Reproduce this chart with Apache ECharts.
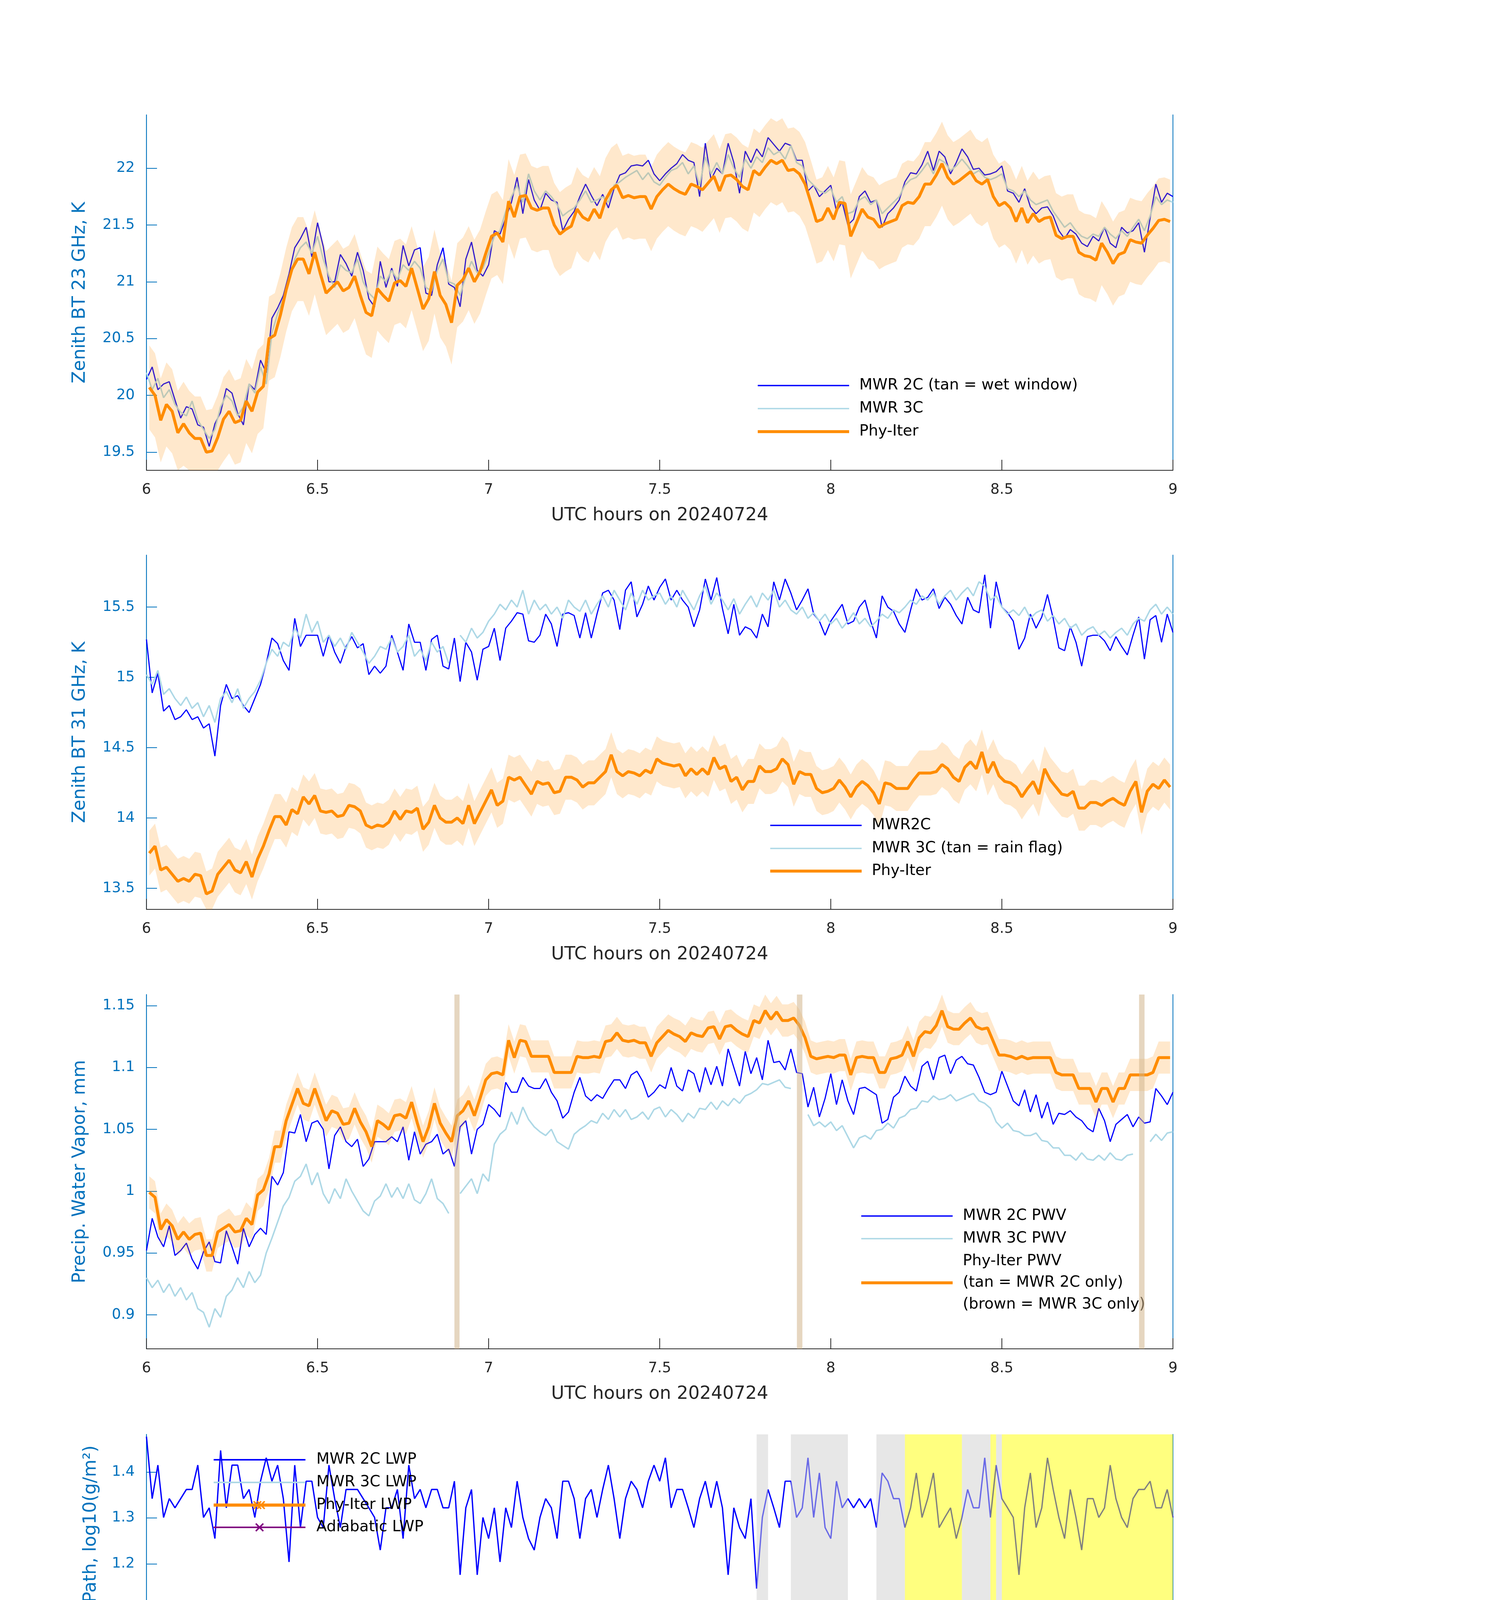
<!DOCTYPE html>
<html>
<head>
<meta charset="utf-8">
<title>MWR retrievals 20240724</title>
<script src="https://cdn.jsdelivr.net/npm/echarts@6.0.0/dist/echarts.min.js"></script>
<style>
html,body{margin:0;padding:0;background:#ffffff;}
#chart{width:3825px;height:6000px;}
</style>
</head>
<body>
<div id="chart"></div>
<script>
// ================= DATA =================
const xTickValues = [6, 6.5, 7, 7.5, 8, 8.5, 9];
const bt23Ticks = [19.5, 20, 20.5, 21, 21.5, 22];
const bt31Ticks = [13.5, 14, 14.5, 15, 15.5];
const pwvTicks = [0.9, 0.95, 1, 1.05, 1.1, 1.15];
const lwpTicks = [0.8, 0.9, 1, 1.1, 1.2, 1.3, 1.4];
const flagTicks = [0, 2, 4, 6, 8, 10];

// MWR samples every minute from 6:00 to 9:00 UTC; Phy-Iter samples at half-minute centres
const minuteTimes = Array.from({length: 181}, (_, i) => 6 + i / 60);
const phyTimes = Array.from({length: 180}, (_, k) => 6 + (k + 0.5) / 60);

// ---- Panel 1: Zenith BT 23 GHz (K)
const bt23Mwr2c = [20.14,20.25,20.05,20.10,20.12,19.96,19.80,19.90,19.88,19.74,
19.72,19.55,19.75,19.85,20.06,20.02,19.84,19.74,20.10,20.05,
20.31,20.20,20.68,20.77,20.88,21.07,21.30,21.38,21.48,21.22,
21.52,21.31,21.00,21.00,21.24,21.16,21.05,21.26,21.10,20.85,
20.78,21.18,20.95,21.12,20.96,21.32,21.14,21.28,21.30,20.90,
20.88,21.15,21.30,20.98,20.95,20.78,21.20,21.35,21.10,21.05,
21.15,21.45,21.42,21.56,21.70,21.92,21.60,21.90,21.72,21.63,
21.78,21.72,21.70,21.45,21.55,21.62,21.75,21.86,21.76,21.67,
21.77,21.65,21.82,21.94,21.96,22.02,22.03,22.02,22.07,21.95,
21.89,21.95,22.00,22.04,22.12,22.07,22.05,21.75,22.22,21.90,
22.00,21.95,22.22,22.05,21.78,22.15,22.05,22.17,22.10,22.27,
22.21,22.15,22.22,22.20,22.07,22.07,21.80,21.85,21.75,21.80,
21.85,21.62,21.70,21.50,21.55,21.75,21.80,21.70,21.72,21.48,
21.60,21.65,21.72,21.88,21.96,21.95,22.03,22.15,21.98,22.15,
22.10,21.95,22.05,22.17,22.10,21.99,22.00,21.94,21.95,21.97,
22.02,21.80,21.78,21.70,21.82,21.66,21.60,21.65,21.66,21.58,
21.45,21.38,21.46,21.42,21.34,21.31,21.40,21.36,21.48,21.34,
21.30,21.48,21.43,21.45,21.52,21.26,21.56,21.86,21.70,21.78,
21.75];
const bt23Mwr3c = [20.20,20.05,20.15,19.98,20.05,19.92,19.85,19.82,19.95,19.78,
19.70,19.62,19.70,19.90,20.00,19.95,19.82,19.90,20.10,20.02,
20.25,20.10,20.55,20.72,20.85,21.00,21.20,21.30,21.35,21.25,
21.40,21.20,21.05,20.95,21.15,21.10,21.08,21.20,21.00,20.90,
20.85,21.05,21.00,21.10,21.02,21.15,21.10,21.18,21.12,20.95,
20.92,21.10,21.20,21.00,20.98,20.88,21.05,21.18,21.08,21.12,
21.25,21.40,21.45,21.62,21.75,21.85,21.70,21.95,21.80,21.72,
21.80,21.75,21.68,21.58,21.62,21.65,21.72,21.80,21.70,21.72,
21.75,21.70,21.85,21.88,21.92,21.95,21.98,21.90,21.96,21.88,
21.85,21.92,21.98,22.00,22.05,21.95,22.02,21.85,22.10,21.95,
22.05,21.95,22.12,22.00,21.92,22.08,22.00,22.10,22.05,22.18,
22.12,22.15,22.08,22.20,22.05,22.02,21.90,21.85,21.80,21.78,
21.82,21.70,21.75,21.60,21.62,21.72,21.75,21.68,21.72,21.60,
21.65,21.70,21.75,21.85,21.90,21.92,21.98,22.05,21.95,22.08,
22.05,21.98,22.02,22.08,22.02,21.95,21.98,21.92,21.90,21.92,
21.95,21.82,21.80,21.75,21.80,21.72,21.68,21.70,21.72,21.62,
21.55,21.48,21.52,21.45,21.40,21.38,21.42,21.40,21.48,21.42,
21.38,21.45,21.40,21.48,21.55,21.45,21.58,21.75,21.68,21.72,
21.70];
const bt23Phy = [20.07,20.00,19.78,19.92,19.86,19.67,19.75,19.67,19.62,19.62,
19.50,19.51,19.63,19.79,19.86,19.76,19.78,19.95,19.86,20.03,
20.08,20.50,20.53,20.71,20.93,21.11,21.20,21.20,21.07,21.26,
21.07,20.90,20.95,21.00,20.92,20.95,21.05,20.88,20.73,20.70,
20.94,20.88,20.83,20.99,21.01,20.96,21.12,20.94,20.76,20.85,
21.09,20.88,20.80,20.64,20.97,21.02,21.12,21.00,21.09,21.25,
21.40,21.43,21.35,21.71,21.57,21.75,21.76,21.65,21.63,21.65,
21.65,21.50,21.42,21.46,21.49,21.64,21.57,21.54,21.64,21.56,
21.72,21.81,21.85,21.74,21.76,21.74,21.75,21.75,21.64,21.75,
21.81,21.86,21.82,21.79,21.77,21.86,21.84,21.81,21.87,21.93,
21.80,21.93,21.94,21.90,21.84,21.81,21.98,21.94,22.01,22.07,
22.04,22.07,21.98,21.99,21.95,21.86,21.70,21.53,21.55,21.65,
21.55,21.70,21.69,21.40,21.52,21.64,21.57,21.55,21.48,21.51,
21.53,21.55,21.67,21.70,21.69,21.75,21.86,21.86,21.94,22.04,
21.92,21.86,21.89,21.93,21.97,21.89,21.86,21.90,21.75,21.67,
21.70,21.65,21.53,21.65,21.52,21.60,21.53,21.56,21.57,21.41,
21.38,21.40,21.40,21.26,21.23,21.22,21.19,21.34,21.26,21.16,
21.24,21.26,21.37,21.35,21.34,21.41,21.47,21.54,21.55,21.53];
const bt23PhyUncertainty = 0.37;

// ---- Panel 2: Zenith BT 31 GHz (K)
const bt31Mwr2c = [15.27,14.89,15.03,14.76,14.80,14.70,14.72,14.77,14.70,14.72,
14.64,14.67,14.44,14.80,14.95,14.85,14.87,14.80,14.75,14.85,
14.95,15.10,15.28,15.24,15.12,15.05,15.42,15.22,15.30,15.30,
15.30,15.15,15.30,15.18,15.10,15.22,15.29,15.21,15.24,15.02,
15.08,15.03,15.08,15.30,15.18,15.05,15.38,15.25,15.25,15.05,
15.27,15.30,15.08,15.06,15.28,14.97,15.25,15.18,14.98,15.20,
15.22,15.35,15.12,15.35,15.40,15.46,15.45,15.26,15.25,15.30,
15.45,15.38,15.22,15.45,15.46,15.44,15.28,15.46,15.28,15.45,
15.60,15.62,15.55,15.34,15.62,15.68,15.43,15.52,15.65,15.55,
15.64,15.70,15.55,15.62,15.55,15.50,15.36,15.48,15.70,15.55,
15.71,15.49,15.31,15.52,15.30,15.36,15.34,15.28,15.45,15.36,
15.68,15.55,15.70,15.60,15.48,15.55,15.63,15.45,15.40,15.30,
15.40,15.46,15.52,15.38,15.40,15.50,15.55,15.40,15.28,15.58,
15.50,15.47,15.38,15.32,15.48,15.63,15.55,15.57,15.63,15.49,
15.57,15.52,15.44,15.38,15.57,15.48,15.46,15.73,15.35,15.68,
15.50,15.46,15.40,15.20,15.28,15.45,15.35,15.43,15.59,15.42,
15.21,15.19,15.36,15.25,15.08,15.29,15.30,15.30,15.26,15.19,
15.29,15.22,15.16,15.30,15.43,15.13,15.41,15.44,15.25,15.45,
15.32];
const bt31Mwr3c = [15.02,14.95,15.05,14.88,14.92,14.85,14.80,14.86,14.78,14.82,
14.72,14.80,14.68,14.85,14.90,14.82,14.92,14.78,14.85,14.90,
14.98,15.10,15.20,15.15,15.25,15.22,15.35,15.28,15.45,15.32,
15.40,15.25,15.30,15.22,15.28,15.20,15.32,15.25,15.18,15.10,
15.15,15.22,15.20,15.28,15.18,15.22,15.30,15.15,15.20,15.12,
15.25,15.18,15.22,15.10,null,15.30,15.25,15.35,15.28,15.32,
15.40,15.45,15.52,15.48,15.55,15.50,15.62,15.45,15.55,15.48,
15.52,15.45,15.50,15.42,15.55,15.50,15.47,15.55,15.45,15.52,
15.58,15.50,15.62,15.55,15.48,15.60,15.52,15.62,15.55,15.58,
15.60,15.52,15.58,15.50,15.62,15.55,15.48,15.58,15.65,15.52,
15.60,15.55,15.48,15.56,15.45,15.52,15.58,15.50,15.60,15.55,
15.62,15.50,15.55,15.48,15.45,15.50,15.42,15.46,15.40,15.45,
15.38,15.42,15.35,15.40,15.46,15.38,15.42,15.36,15.40,15.45,
15.42,15.48,15.46,15.50,15.55,15.52,15.58,15.55,15.60,15.52,
15.58,15.62,15.55,15.60,15.64,15.58,15.68,15.65,15.55,15.58,
15.50,15.45,15.48,15.44,15.50,15.42,15.46,15.48,15.40,15.44,
15.38,15.42,15.35,15.38,15.30,15.34,15.36,15.30,15.33,15.28,
15.32,15.35,15.30,15.38,15.42,15.40,15.48,15.52,15.45,15.50,
15.45];
const bt31Phy = [13.75,13.80,13.63,13.65,13.60,13.55,13.57,13.55,13.60,13.59,
13.46,13.48,13.60,13.65,13.70,13.63,13.61,13.69,13.58,13.71,
13.80,13.91,14.01,14.01,13.95,14.06,14.03,14.15,14.10,14.16,
14.05,14.04,14.05,14.01,14.02,14.09,14.08,14.05,13.95,13.93,
13.95,13.94,13.97,14.05,13.99,14.05,14.04,14.07,13.92,13.97,
14.09,14.00,13.97,13.97,14.00,13.96,14.09,13.96,14.04,14.12,
14.20,14.09,14.12,14.29,14.27,14.29,14.23,14.17,14.26,14.24,
14.25,14.18,14.19,14.29,14.29,14.27,14.22,14.25,14.25,14.29,
14.33,14.45,14.33,14.30,14.33,14.32,14.30,14.34,14.32,14.42,
14.39,14.38,14.37,14.38,14.30,14.35,14.31,14.35,14.31,14.43,
14.35,14.37,14.26,14.29,14.20,14.26,14.26,14.37,14.33,14.33,
14.35,14.42,14.38,14.24,14.33,14.31,14.31,14.21,14.18,14.19,
14.21,14.27,14.22,14.15,14.22,14.26,14.23,14.18,14.10,14.25,
14.24,14.21,14.21,14.21,14.27,14.32,14.32,14.32,14.33,14.38,
14.35,14.29,14.26,14.36,14.40,14.35,14.47,14.32,14.40,14.30,
14.26,14.25,14.22,14.15,14.21,14.26,14.17,14.35,14.27,14.22,
14.17,14.16,14.19,14.07,14.07,14.11,14.11,14.09,14.12,14.14,
14.11,14.09,14.19,14.26,14.04,14.19,14.24,14.21,14.27,14.22];
const bt31PhyUncertainty = 0.16;

// ---- Panel 3: Precipitable water vapour (mm)
const pwvMwr2c = [0.952,0.978,0.963,0.955,0.972,0.948,0.952,0.958,0.945,0.937,
0.951,0.959,0.943,0.942,0.968,0.955,0.941,0.970,0.955,0.965,
0.970,0.965,1.012,1.005,1.015,1.048,1.047,1.062,1.040,1.055,
1.057,1.050,1.018,1.045,1.052,1.040,1.036,1.042,1.020,1.026,
1.040,1.040,1.040,1.044,1.040,1.052,1.025,1.048,1.030,1.038,
1.040,1.046,1.030,1.034,1.020,1.052,1.057,1.030,1.050,1.054,
1.070,1.066,1.060,1.088,1.080,1.080,1.092,1.085,1.083,1.083,
1.091,1.080,1.073,1.059,1.064,1.080,1.092,1.077,1.073,1.078,
1.075,1.083,1.090,1.090,1.083,1.094,1.097,1.089,1.076,1.080,
1.086,1.083,1.100,1.085,1.081,1.098,1.095,1.080,1.100,1.086,
1.101,1.085,1.115,1.100,1.085,1.113,1.095,1.108,1.090,1.122,
1.104,1.105,1.098,1.115,1.096,1.095,1.068,1.084,1.060,1.075,
1.095,1.070,1.090,1.073,1.062,1.083,1.084,1.081,1.078,1.055,
1.058,1.076,1.080,1.093,1.085,1.081,1.101,1.105,1.090,1.108,
1.110,1.095,1.106,1.109,1.103,1.102,1.092,1.080,1.078,1.080,
1.097,1.085,1.073,1.069,1.082,1.064,1.078,1.059,1.072,1.054,
1.063,1.062,1.065,1.060,1.057,1.051,1.048,1.067,1.057,1.040,
1.054,1.058,1.062,1.052,1.060,1.055,1.056,1.083,1.077,1.070,
1.080];
const pwvMwr3c = [0.930,0.922,0.928,0.918,0.925,0.915,0.922,0.912,0.918,0.905,
0.902,0.890,0.905,0.898,0.915,0.920,0.930,0.922,0.935,0.926,
0.932,0.950,0.962,0.975,0.988,0.995,1.008,1.012,1.022,1.005,
1.015,0.998,0.990,1.002,0.994,1.010,1.000,0.992,0.984,0.980,
0.992,0.996,1.006,0.995,1.003,0.994,1.006,0.993,0.990,0.998,
1.010,0.994,0.990,0.982,null,0.998,1.004,1.010,0.998,1.014,
1.008,1.038,1.046,1.050,1.064,1.054,1.068,1.058,1.052,1.048,
1.045,1.050,1.040,1.037,1.034,1.046,1.050,1.053,1.057,1.055,
1.063,1.058,1.066,1.060,1.066,1.058,1.060,1.064,1.058,1.066,
1.068,1.060,1.066,1.062,1.056,1.063,1.059,1.067,1.066,1.072,
1.066,1.073,1.069,1.075,1.071,1.077,1.079,1.082,1.087,1.086,
1.088,1.090,1.084,1.083,null,null,1.062,1.053,1.056,1.052,
1.056,1.049,1.053,1.044,1.035,1.043,1.045,1.042,1.049,1.050,
1.055,1.051,1.059,1.061,1.066,1.067,1.073,1.072,1.077,1.074,
1.075,1.078,1.073,1.075,1.077,1.079,1.073,1.071,1.067,1.056,
1.051,1.055,1.049,1.048,1.045,1.045,1.047,1.041,1.040,1.035,
1.035,1.029,1.029,1.025,1.031,1.026,1.025,1.029,1.025,1.031,
1.026,1.025,1.029,1.030,null,null,1.040,1.046,1.041,1.047,
1.048];
const pwvPhy = [0.999,0.995,0.969,0.977,0.972,0.961,0.967,0.961,0.965,0.966,
0.948,0.948,0.967,0.970,0.973,0.967,0.968,0.978,0.973,0.997,
1.001,1.014,1.036,1.036,1.057,1.070,1.083,1.071,1.069,1.083,
1.070,1.057,1.065,1.063,1.054,1.055,1.067,1.056,1.048,1.036,
1.057,1.054,1.050,1.061,1.062,1.059,1.072,1.055,1.040,1.052,
1.071,1.055,1.047,1.040,1.061,1.065,1.073,1.061,1.075,1.090,
1.095,1.096,1.094,1.122,1.108,1.122,1.121,1.109,1.109,1.109,
1.109,1.096,1.096,1.096,1.096,1.109,1.108,1.108,1.109,1.108,
1.121,1.122,1.128,1.122,1.121,1.122,1.120,1.120,1.109,1.120,
1.125,1.130,1.127,1.125,1.121,1.128,1.126,1.125,1.132,1.133,
1.123,1.133,1.134,1.130,1.127,1.125,1.138,1.136,1.146,1.139,
1.145,1.138,1.138,1.140,1.134,1.124,1.109,1.107,1.108,1.109,
1.108,1.110,1.110,1.094,1.108,1.109,1.108,1.108,1.096,1.096,
1.107,1.108,1.110,1.121,1.109,1.124,1.129,1.128,1.134,1.146,
1.133,1.131,1.131,1.136,1.140,1.133,1.131,1.132,1.121,1.110,
1.110,1.109,1.107,1.109,1.107,1.108,1.108,1.108,1.108,1.096,
1.094,1.094,1.094,1.083,1.083,1.083,1.072,1.083,1.083,1.072,
1.083,1.083,1.094,1.094,1.094,1.094,1.096,1.108,1.108,1.108];
const pwvPhyUncertainty = 0.013;
// Phy-Iter steps retrieved from MWR 2C only (tan bars), hours UTC
const pwvTanStart = [6.900, 7.901, 8.901];
const pwvTanEnd = [6.915, 7.917, 8.917];

// ---- Panel 4: log10 liquid water path
const lwpMwr2c = [1.477,1.342,1.415,1.301,1.342,1.322,1.342,1.362,1.362,1.415,
1.301,1.322,1.255,1.447,1.322,1.415,1.415,1.342,1.362,1.301,
1.380,1.431,1.380,1.415,1.342,1.204,1.415,1.279,1.380,1.380,
1.301,1.279,1.415,1.342,1.279,1.362,1.362,1.362,1.342,1.322,
1.301,1.230,1.322,1.322,1.362,1.255,1.415,1.342,1.362,1.322,
1.362,1.362,1.322,1.322,1.380,1.176,1.322,1.362,1.176,1.301,
1.255,1.322,1.204,1.322,1.279,1.380,1.301,1.255,1.230,1.301,
1.342,1.322,1.255,1.380,1.380,1.342,1.255,1.342,1.362,1.301,
1.362,1.415,1.342,1.255,1.342,1.380,1.362,1.322,1.380,1.415,
1.380,1.431,1.322,1.362,1.362,1.322,1.279,1.342,1.380,1.322,
1.380,1.322,1.176,1.322,1.279,1.255,1.342,1.146,1.301,1.362,
1.322,1.279,1.380,1.380,1.301,1.322,1.431,1.301,1.398,1.279,
1.255,1.380,1.322,1.342,1.322,1.342,1.322,1.342,1.279,1.398,
1.380,1.342,1.342,1.279,1.322,1.398,1.301,1.342,1.398,1.279,
1.301,1.322,1.255,1.301,1.362,1.322,1.322,1.431,1.301,1.415,
1.342,1.322,1.301,1.176,1.322,1.398,1.279,1.322,1.431,1.362,
1.301,1.255,1.362,1.301,1.230,1.342,1.342,1.301,1.322,1.415,
1.342,1.301,1.279,1.342,1.362,1.362,1.380,1.322,1.322,1.362,
1.301];
const lwpMwr3c = [0.98,1.03,0.92,1.00,0.93,0.97,0.88,0.80,0.90,0.84,
0.92,0.83,0.95,0.87,0.97,0.89,0.94,0.86,0.98,0.90,
0.93,0.85,0.95,0.90,0.99,0.93,1.01,0.92,0.98,0.96,
1.02,0.95,0.99,0.93,1.01,0.96,1.02,0.94,0.98,0.90,
0.97,0.89,0.96,0.92,0.99,0.90,0.96,0.93,0.98,0.91,
0.97,0.92,0.96,0.90,null,0.99,0.94,1.01,0.96,1.03,
0.95,0.99,0.92,1.00,0.95,0.98,0.93,0.97,0.94,0.99,
0.95,1.00,0.94,0.98,0.96,1.02,0.98,1.06,0.99,1.04,
0.97,1.03,0.96,1.01,0.95,0.99,0.96,1.02,0.97,1.03,
0.96,1.01,0.94,1.00,0.98,1.04,0.99,1.02,0.95,0.99,
0.93,0.97,0.89,0.95,0.91,0.96,0.93,0.97,0.90,0.95,
0.92,0.96,0.90,0.94,null,null,0.87,0.92,0.88,0.93,
0.90,0.87,0.92,0.89,0.93,0.88,0.91,0.86,0.93,0.90,
0.94,0.89,0.92,0.88,0.95,0.90,0.94,0.91,0.96,0.92,
0.98,0.93,1.01,0.95,0.99,0.94,1.00,0.96,1.01,0.94,
0.99,0.95,1.00,0.94,0.98,0.93,0.97,0.95,0.99,0.93,
0.96,0.91,0.97,0.92,0.95,0.90,0.96,0.92,0.97,0.91,
0.96,0.93,0.98,0.95,null,null,0.95,0.98,0.93,0.97,
0.94];
const lwpPhy = [];
const lwpAdiabatic = [];

// ---- Panel 5: MWR Phy-Iter data-quality flag (one per Phy-Iter step)
const dqFlag = [0,0,0,0,0,0,0,0,0,0, 0,0,0,0,0,0,0,0,0,0,
0,0,0,0,0,0,0,0,0,0, 0,0,0,0,0,0,0,0,0,0,
0,0,0,0,0,0,0,0,0,0, 0,0,0,0,0,0,0,0,0,0,
0,0,0,0,0,0,0,0,0,0, 0,0,0,0,0,0,0,0,0,0,
0,0,0,0,0,0,0,0,0,0, 0,0,0,0,0,0,0,0,0,0,
0,0,0,0,0,0,0,4,4,0, 0,0,0,3,3,3,3,3,3,3,
3,3,3,0,0,0,0,0,4,4, 4,4,4,5,5,5,5,5,5,5,
5,5,5,3,3,3,3,3,5,3, 5,5,5,5,5,5,5,5,5,5,
5,5,5,5,5,5,5,5,5,5, 5,5,5,5,5,5,5,5,5,5];

// ================= STYLE / LAYOUT =================
const FONT = 'DejaVu Sans';
const AX_BLUE = '#0072BD';
const DARK = '#262626';
const C_2C = '#0000FF';
const C_3C = '#ADD8E6';
const C_PHY = '#FF8C00';
const C_ADIA = '#800080';
const BAND_FILL = 'rgba(255,140,0,0.2)';
const TAN_FILL = 'rgba(210,180,140,0.55)';
const GRAY_FILL = 'rgba(208,208,208,0.5)';
const YELLOW_FILL = 'rgba(255,255,0,0.5)';

const GRID_LEFT = 375, GRID_W = 2628;
const panelLayout = [
  {top: 294, height: 910},
  {top: 1421, height: 907},
  {top: 2546, height: 907},
  {top: 3672, height: 906},
  {top: 4795, height: 907}
];
const panelAxes = [
  {min: 19.34, max: 22.47, ticks: bt23Ticks, name: 'Zenith BT 23 GHz, K', gap: 147},
  {min: 13.35, max: 15.87, ticks: bt31Ticks, name: 'Zenith BT 31 GHz, K', gap: 147},
  {min: 0.8725, max: 1.159, ticks: pwvTicks, name: 'Precip. Water Vapor, mm', gap: 147},
  {min: 0.711, max: 1.482, ticks: lwpTicks, name: 'log10 Liquid Water Path, log10(g/m²)', gap: 119},
  {min: -0.5, max: 11.5, ticks: flagTicks, name: 'MWR Phy Iter DQ Flag', gap: 106}
];

const zip = (ts, vs) => vs.map((v, i) => [ts[i], v]);

const grids = panelLayout.map(p => ({left: GRID_LEFT, width: GRID_W, top: p.top, height: p.height, containLabel: false}));

const xAxes = panelLayout.map((p, g) => ({
  gridIndex: g, type: 'value', min: xTickValues[0], max: xTickValues[xTickValues.length - 1], interval: 0.5,
  name: 'UTC hours on 20240724', nameLocation: 'middle', nameGap: 93,
  nameTextStyle: {fontSize: 46, color: DARK, fontFamily: FONT},
  axisLine: {show: true, onZero: false, lineStyle: {color: DARK, width: 2.2}},
  axisTick: {show: true, inside: true, length: 27, lineStyle: {color: DARK, width: 2}},
  axisLabel: {show: true, fontSize: 37, color: DARK, margin: 32, fontFamily: FONT},
  splitLine: {show: false}
}));

const yAxesLeft = panelAxes.map((a, g) => ({
  gridIndex: g, type: 'value', position: 'left', min: a.min, max: a.max,
  name: a.name, nameLocation: 'middle', nameGap: a.gap,
  nameTextStyle: {fontSize: 46, color: AX_BLUE, fontFamily: FONT},
  axisLine: {show: true, onZero: false, lineStyle: {color: AX_BLUE, width: 2.2}},
  axisTick: {show: true, inside: true, length: 27, customValues: a.ticks, lineStyle: {color: AX_BLUE, width: 2}},
  axisLabel: {show: true, customValues: a.ticks, fontSize: 37, color: AX_BLUE, margin: 30, fontFamily: FONT},
  splitLine: {show: false}
}));
const yAxesRight = panelAxes.map((a, g) => ({
  gridIndex: g, type: 'value', position: 'right', min: 0, max: 1,
  axisLine: {show: true, onZero: false, lineStyle: {color: AX_BLUE, width: 2}},
  axisTick: {show: false}, axisLabel: {show: false}, splitLine: {show: false}
}));

function lineSeries(name, g, ts, vs, color, width, z) {
  return {
    type: 'line', name, xAxisIndex: g, yAxisIndex: g, data: zip(ts, vs), color,
    showSymbol: false, symbol: 'none', connectNulls: false, silent: true, z,
    lineStyle: {color, width}, itemStyle: {color}, emphasis: {disabled: true}
  };
}
// Uncertainty envelope (Phy-Iter value +/- uncertainty), projected through the axes and clipped to the plot box
function bandSeries(g, vs, sigma, z) {
  return {
    type: 'custom', xAxisIndex: g, yAxisIndex: g, z, silent: true,
    data: [[phyTimes[0], vs[0]]], encode: {x: 0, y: 1},
    renderItem: (params, api) => {
      const cs = params.coordSys;
      const clampY = y => Math.min(Math.max(y, cs.y), cs.y + cs.height);
      const upper = phyTimes.map((t, k) => { const p = api.coord([t, vs[k] + sigma]); return [p[0], clampY(p[1])]; });
      const lower = phyTimes.map((t, k) => { const p = api.coord([t, vs[k] - sigma]); return [p[0], clampY(p[1])]; });
      return {type: 'polygon', shape: {points: upper.concat(lower.reverse())}, style: {fill: BAND_FILL}};
    }
  };
}
function shadeSeries(g, regions, fills, z) {
  return {
    type: 'custom', xAxisIndex: g, yAxisIndex: g, z, silent: true, data: regions,
    encode: {x: [0, 1], y: 2},
    renderItem: (params, api) => {
      const cs = params.coordSys;
      const xa = api.coord([api.value(0), 0])[0];
      const xb = api.coord([api.value(1), 0])[0];
      return {type: 'rect', shape: {x: xa, y: cs.y, width: xb - xa, height: cs.height},
              style: {fill: fills[api.value(2)]}};
    }
  };
}

// Shaded regions in panel 4 follow the DQ flag (3/4 grey, 5 yellow), one Phy-Iter step wide
const halfStep = 0.5 / 60;
const flagClass = f => (f === 5 ? 2 : ((f === 3 || f === 4) ? 1 : 0));
const lwpRegions = [];
for (let k = 0; k < dqFlag.length;) {
  const c = flagClass(dqFlag[k]);
  let j = k;
  while (j + 1 < dqFlag.length && flagClass(dqFlag[j + 1]) === c) j++;
  if (c > 0) lwpRegions.push([phyTimes[k] - halfStep, phyTimes[j] + halfStep, c]);
  k = j + 1;
}
const pwvRegions = pwvTanStart.map((s, i) => [s, pwvTanEnd[i], 0]);

const N1 = 'MWR 2C (tan = wet window)', N1b = 'MWR 3C', NP = 'Phy-Iter';
const N2 = 'MWR2C', N2b = 'MWR 3C (tan = rain flag)';
const N3 = 'MWR 2C PWV', N3b = 'MWR 3C PWV', N3p = 'Phy-Iter PWV\n(tan = MWR 2C only)\n(brown = MWR 3C only)';
const N4 = 'MWR 2C LWP', N4b = 'MWR 3C LWP', N4p = 'Phy-Iter LWP', N4a = 'Adiabatic LWP';

const series = [
  lineSeries(N1, 0, minuteTimes, bt23Mwr2c, C_2C, 3, 2),
  lineSeries(N1b, 0, minuteTimes, bt23Mwr3c, C_3C, 3.8, 2),
  bandSeries(0, bt23Phy, bt23PhyUncertainty, 3),
  lineSeries(NP, 0, phyTimes, bt23Phy, C_PHY, 7.5, 4),

  lineSeries(N2, 1, minuteTimes, bt31Mwr2c, C_2C, 3, 2),
  lineSeries(N2b, 1, minuteTimes, bt31Mwr3c, C_3C, 3.8, 2),
  bandSeries(1, bt31Phy, bt31PhyUncertainty, 3),
  lineSeries(NP, 1, phyTimes, bt31Phy, C_PHY, 7.5, 4),

  lineSeries(N3, 2, minuteTimes, pwvMwr2c, C_2C, 3, 2),
  lineSeries(N3b, 2, minuteTimes, pwvMwr3c, C_3C, 3.8, 2),
  bandSeries(2, pwvPhy, pwvPhyUncertainty, 3),
  lineSeries(N3p, 2, phyTimes, pwvPhy, C_PHY, 7.5, 4),
  shadeSeries(2, pwvRegions, [TAN_FILL], 6),

  lineSeries(N4, 3, minuteTimes, lwpMwr2c, C_2C, 3.4, 2),
  lineSeries(N4b, 3, minuteTimes, lwpMwr3c, C_3C, 3.8, 2),
  lineSeries(N4p, 3, phyTimes, lwpPhy, C_PHY, 7.5, 4),
  lineSeries(N4a, 3, phyTimes, lwpAdiabatic, C_ADIA, 4, 4),
  shadeSeries(3, lwpRegions, ['rgba(0,0,0,0)', GRAY_FILL, YELLOW_FILL], 6),

  {type: 'scatter', name: 'DQ flag', xAxisIndex: 4, yAxisIndex: 4, data: zip(phyTimes, dqFlag),
   symbol: 'circle', symbolSize: 7, itemStyle: {color: C_PHY}, silent: true, z: 3, emphasis: {disabled: true}}
];

// ---- legends (one component per entry so each line keeps its own thickness)
const ORANGE_X_ICON = 'path://M0,7H235V15H0Z M101,2.8L103.8,0L112,8.2L120.2,0L123,2.8L114.8,11L123,19.2L120.2,22L112,13.8L103.8,22L101,19.2L109.2,11Z M110,2.8L112.8,0L121,8.2L129.2,0L132,2.8L123.8,11L132,19.2L129.2,22L121,13.8L112.8,22L110,19.2L118.2,11Z';
const PURPLE_X_ICON = 'path://M0,9H235V13H0Z M106.5,2.8L109.3,0L117.5,8.2L125.7,0L128.5,2.8L120.3,11L128.5,19.2L125.7,22L117.5,13.8L109.3,22L106.5,19.2L114.7,11Z';

function legendEntry(name, left, centerY, thick, textGap, opts) {
  const o = opts || {};
  const lh = o.lineHeight || 58;
  const lines = o.lines || 1;
  return {
    show: true, orient: 'vertical', left, top: centerY - lh * lines / 2, padding: 0,
    itemWidth: o.width || 234, itemHeight: thick, itemGap: 0, icon: o.icon || 'rect',
    selectedMode: false, data: [name],
    itemStyle: {borderWidth: 0},
    textStyle: {fontSize: 39, color: '#000000', fontFamily: FONT, lineHeight: lh, padding: [0, 0, 0, textGap]}
  };
}
const legends = [
  legendEntry(N1, 1940, 987, 3.4, 21),
  legendEntry(N1b, 1940, 1046, 3.5, 21),
  legendEntry(NP, 1940, 1105, 7.5, 21),

  legendEntry(N2, 1972, 2113, 3.4, 21),
  legendEntry(N2b, 1972, 2172, 3.5, 21),
  legendEntry(NP, 1972, 2230, 7.5, 21),

  legendEntry(N3, 2205, 3113, 3.4, 21),
  legendEntry(N3b, 2205, 3171, 3.5, 21),
  legendEntry(N3p, 2205, 3284, 7.5, 21, {lineHeight: 55.5, lines: 3}),

  legendEntry(N4, 547, 3737, 4, 23, {width: 235}),
  legendEntry(N4b, 547, 3795, 4, 23, {width: 235}),
  legendEntry(N4p, 547, 3853, 22, 23, {width: 235, icon: ORANGE_X_ICON}),
  legendEntry(N4a, 547, 3910, 22, 23, {width: 235, icon: PURPLE_X_ICON})
];

const chart = echarts.init(document.getElementById('chart'), null, {renderer: 'canvas', width: 3825, height: 6000});
chart.setOption({
  backgroundColor: '#ffffff',
  animation: false,
  textStyle: {fontFamily: FONT},
  grid: grids,
  xAxis: xAxes,
  yAxis: yAxesLeft.concat(yAxesRight),
  legend: legends,
  series
});
</script>
</body>
</html>
